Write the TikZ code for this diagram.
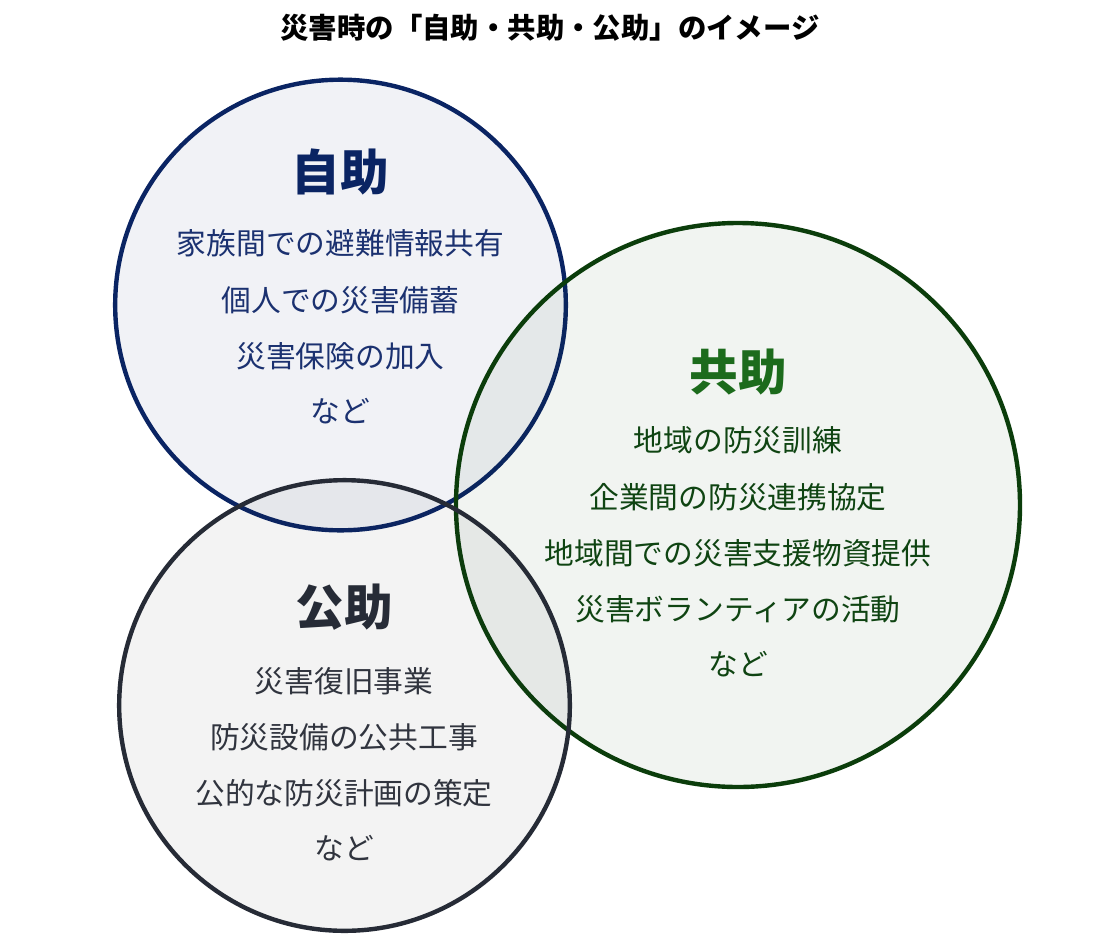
\documentclass[tikz,border=0pt]{standalone}
\usepackage{fontspec}
\setmainfont{Noto Sans CJK JP}
\definecolor{navyc}{HTML}{0A2463}
\definecolor{navyt}{HTML}{1B3170}
\definecolor{greenc}{HTML}{0B3D0B}
\definecolor{greenh}{HTML}{1C6B1C}
\definecolor{greent}{HTML}{0F4412}
\definecolor{grayc}{HTML}{262B36}
\definecolor{grayt}{HTML}{30343E}
\begin{document}
\begin{tikzpicture}[x=0.75pt,y=-0.75pt]
\tikzstyle{ring}=[circle,inner sep=0pt,line width=3.3pt,fill opacity=0.055,draw opacity=1]
\tikzstyle{head}=[font=\bfseries\fontsize{36.5}{40}\selectfont]
\tikzstyle{item}=[font=\fontsize{22.3}{26}\selectfont]
\useasboundingbox[fill=white] (0,0) rectangle (1100,936);

% circles
\node[ring,draw=navyc,fill=navyc,minimum size=338pt](jijo) at (340.5,305) {};
\node[ring,draw=greenc,fill=greenc,minimum size=423pt](kyojo) at (738,505) {};
\node[ring,draw=grayc,fill=grayc,minimum size=338pt](kojo) at (344.5,705.5) {};

\node[font=\bfseries\fontsize{21.3}{24}\selectfont](title) at (550,28) {災害時の「自助・共助・公助」のイメージ};

% self help
\node[head,text=navyc](h1) at (340.5,172) {自助};
\node[item,text=navyt](a1) at (340.5,243) {家族間での避難情報共有};
\node[item,text=navyt](a2) at (340.5,300) {個人での災害備蓄};
\node[item,text=navyt](a3) at (340.5,356) {災害保険の加入};
\node[item,text=navyt](a4) at (340.5,411) {など};

% mutual help
\node[head,text=greenh](h2) at (738,372) {共助};
\node[item,text=greent](b1) at (738,440) {地域の防災訓練};
\node[item,text=greent](b2) at (738,497) {企業間の防災連携協定};
\node[item,text=greent](b3) at (738,553) {地域間での災害支援物資提供};
\node[item,text=greent](b4) at (738,609) {災害ボランティアの活動};
\node[item,text=greent](b5) at (738,664) {など};

% public help
\node[head,text=grayc](h3) at (344,607) {公助};
\node[item,text=grayt](c1) at (344,681) {災害復旧事業};
\node[item,text=grayt](c2) at (344,737) {防災設備の公共工事};
\node[item,text=grayt](c3) at (344,793) {公的な防災計画の策定};
\node[item,text=grayt](c4) at (344,848) {など};
\end{tikzpicture}
\end{document}
